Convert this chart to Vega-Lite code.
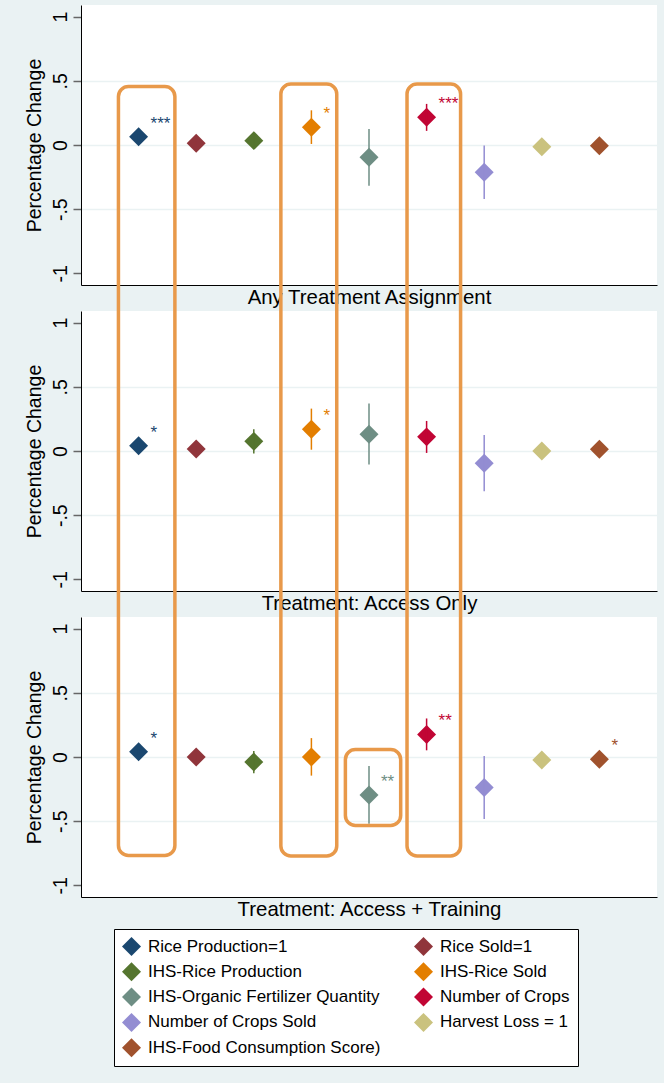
{
  "$schema": "https://vega.github.io/schema/vega-lite/v6.json",
  "background": "#EAF2F3",
  "padding": {"left": 24, "top": 5, "right": 7, "bottom": 18},
  "bounds": "flush",
  "spacing": 26,
  "config": {
    "font": "Liberation Sans",
    "view": {"fill": "white", "stroke": null},
    "axis": {
      "labelFont": "Liberation Sans", "titleFont": "Liberation Sans",
      "labelColor": "black", "titleColor": "black", "titleFontWeight": "normal",
      "domainColor": "black", "domainWidth": 1, "tickColor": "#666", "tickWidth": 1.5,
      "gridColor": "#EAF2F3", "gridWidth": 1.5
    },
    "axisX": {"labels": false, "ticks": false, "grid": false, "titleFontSize": 20.4, "titlePadding": 2},
    "axisY": {
      "labelAngle": 270, "labelAlign": "center", "labelBaseline": "bottom",
      "labelFontSize": 19.5, "labelPadding": 3, "tickSize": 8, "titleFontSize": 19.5, "titlePadding": 6
    }
  },
  "datasets": {
    "est": [
      {"panel": "Any Treatment Assignment", "series": "Rice Production=1", "k": 1, "est": 0.065, "lo": 0.045, "hi": 0.085, "sig": "***"},
      {"panel": "Any Treatment Assignment", "series": "Rice Sold=1", "k": 2, "est": 0.013, "lo": 0.0, "hi": 0.026, "sig": ""},
      {"panel": "Any Treatment Assignment", "series": "IHS-Rice Production", "k": 3, "est": 0.034, "lo": -0.02, "hi": 0.09, "sig": ""},
      {"panel": "Any Treatment Assignment", "series": "IHS-Rice Sold", "k": 4, "est": 0.138, "lo": 0.008, "hi": 0.27, "sig": "*"},
      {"panel": "Any Treatment Assignment", "series": "IHS-Organic Fertilizer Quantity", "k": 5, "est": -0.096, "lo": -0.318, "hi": 0.125, "sig": ""},
      {"panel": "Any Treatment Assignment", "series": "Number of Crops", "k": 6, "est": 0.216, "lo": 0.11, "hi": 0.32, "sig": "***"},
      {"panel": "Any Treatment Assignment", "series": "Number of Crops Sold", "k": 7, "est": -0.213, "lo": -0.42, "hi": -0.003, "sig": ""},
      {"panel": "Any Treatment Assignment", "series": "Harvest Loss = 1", "k": 8, "est": -0.013, "lo": -0.03, "hi": 0.005, "sig": ""},
      {"panel": "Any Treatment Assignment", "series": "IHS-Food Consumption Score)", "k": 9, "est": -0.005, "lo": -0.03, "hi": 0.02, "sig": ""},
      {"panel": "Treatment: Access Only", "series": "Rice Production=1", "k": 1, "est": 0.041, "lo": 0.02, "hi": 0.06, "sig": "*"},
      {"panel": "Treatment: Access Only", "series": "Rice Sold=1", "k": 2, "est": 0.015, "lo": -0.005, "hi": 0.035, "sig": ""},
      {"panel": "Treatment: Access Only", "series": "IHS-Rice Production", "k": 3, "est": 0.075, "lo": -0.02, "hi": 0.17, "sig": ""},
      {"panel": "Treatment: Access Only", "series": "IHS-Rice Sold", "k": 4, "est": 0.17, "lo": 0.01, "hi": 0.33, "sig": "*"},
      {"panel": "Treatment: Access Only", "series": "IHS-Organic Fertilizer Quantity", "k": 5, "est": 0.131, "lo": -0.106, "hi": 0.37, "sig": ""},
      {"panel": "Treatment: Access Only", "series": "Number of Crops", "k": 6, "est": 0.11, "lo": -0.015, "hi": 0.234, "sig": ""},
      {"panel": "Treatment: Access Only", "series": "Number of Crops Sold", "k": 7, "est": -0.095, "lo": -0.314, "hi": 0.124, "sig": ""},
      {"panel": "Treatment: Access Only", "series": "Harvest Loss = 1", "k": 8, "est": 0.0, "lo": -0.02, "hi": 0.02, "sig": ""},
      {"panel": "Treatment: Access Only", "series": "IHS-Food Consumption Score)", "k": 9, "est": 0.013, "lo": -0.01, "hi": 0.035, "sig": ""},
      {"panel": "Treatment: Access + Training", "series": "Rice Production=1", "k": 1, "est": 0.041, "lo": 0.02, "hi": 0.06, "sig": "*"},
      {"panel": "Treatment: Access + Training", "series": "Rice Sold=1", "k": 2, "est": 0.0, "lo": -0.02, "hi": 0.02, "sig": ""},
      {"panel": "Treatment: Access + Training", "series": "IHS-Rice Production", "k": 3, "est": -0.039, "lo": -0.126, "hi": 0.047, "sig": ""},
      {"panel": "Treatment: Access + Training", "series": "IHS-Rice Sold", "k": 4, "est": 0.0, "lo": -0.145, "hi": 0.147, "sig": ""},
      {"panel": "Treatment: Access + Training", "series": "IHS-Organic Fertilizer Quantity", "k": 5, "est": -0.295, "lo": -0.52, "hi": -0.07, "sig": "**"},
      {"panel": "Treatment: Access + Training", "series": "Number of Crops", "k": 6, "est": 0.176, "lo": 0.052, "hi": 0.30, "sig": "**"},
      {"panel": "Treatment: Access + Training", "series": "Number of Crops Sold", "k": 7, "est": -0.238, "lo": -0.483, "hi": 0.008, "sig": ""},
      {"panel": "Treatment: Access + Training", "series": "Harvest Loss = 1", "k": 8, "est": -0.023, "lo": -0.045, "hi": 0.0, "sig": ""},
      {"panel": "Treatment: Access + Training", "series": "IHS-Food Consumption Score)", "k": 9, "est": -0.018, "lo": -0.04, "hi": 0.005, "sig": "*"}
    ],
    "boxes": [
      {"x1": 0.65, "x2": 1.63, "y1": 5.22, "y2": -0.767},
      {"x1": 3.47, "x2": 4.44, "y1": 5.24, "y2": -0.77},
      {"x1": 5.66, "x2": 6.59, "y1": 5.24, "y2": -0.77},
      {"x1": 4.59, "x2": 5.55, "y1": 0.058, "y2": -0.533}
    ]
  },
  "vconcat": [
    {
      "width": 576, "height": 280,
      "layer": [
        {
          "data": {"name": "est"},
          "transform": [{"filter": "datum.panel == 'Any Treatment Assignment'"}],
          "mark": {"type": "point", "shape": "diamond", "filled": true, "size": 360, "opacity": 1},
          "encoding": {
            "x": {"field": "k", "type": "quantitative", "scale": {"domain": [0, 10], "nice": false}, "axis": {"title": "Any Treatment Assignment"}},
            "y": {"field": "est", "type": "quantitative", "scale": {"domain": [-1.09, 1.09], "nice": false, "zero": false},
              "axis": {"title": "Percentage Change", "values": [-1, -0.5, 0, 0.5, 1],
                "labelExpr": "datum.value == 0.5 ? '.5' : datum.value == -0.5 ? '-.5' : datum.value == 1 ? '1' : datum.value == -1 ? '-1' : '0'",
                "gridOpacity": {"condition": {"test": "abs(datum.value) > 0.9", "value": 0}, "value": 1}}},
            "color": {"field": "series", "type": "nominal", "sort": null,
              "scale": {"domain": ["Rice Production=1", "Rice Sold=1", "IHS-Rice Production", "IHS-Rice Sold", "IHS-Organic Fertilizer Quantity", "Number of Crops", "Number of Crops Sold", "Harvest Loss = 1", "IHS-Food Consumption Score)"],
                "range": ["#1A476F", "#90353B", "#55752F", "#E37E00", "#6E8E84", "#C10534", "#938DD2", "#CAC27E", "#A0522D"]},
              "legend": {
                "orient": "none", "legendX": 33, "legendY": 924, "columns": 2, "direction": "horizontal", "title": null,
                "symbolType": "diamond", "symbolSize": 360, "symbolStrokeWidth": 0, "symbolOpacity": 1,
                "labelFontSize": 17, "labelFont": "Liberation Sans", "labelColor": "black", "labelLimit": 400,
                "fillColor": "white", "strokeColor": "black", "padding": 8, "rowPadding": 6.3, "columnPadding": 33, "labelOffset": 7
              }}
          }
        },
        {
          "data": {"name": "est"},
          "transform": [{"filter": "datum.panel == 'Any Treatment Assignment'"}],
          "mark": {"type": "rule", "strokeWidth": 1.5},
          "encoding": {
            "x": {"field": "k", "type": "quantitative"},
            "y": {"field": "lo", "type": "quantitative"},
            "y2": {"field": "hi"},
            "color": {"field": "series", "type": "nominal"}
          }
        },
        {
          "data": {"name": "est"},
          "transform": [{"filter": "datum.panel == 'Any Treatment Assignment'"}],
          "mark": {"type": "text", "align": "left", "baseline": "alphabetic", "dx": 12, "dy": -8, "fontSize": 17},
          "encoding": {
            "x": {"field": "k", "type": "quantitative"},
            "y": {"field": "est", "type": "quantitative"},
            "text": {"field": "sig"},
            "color": {"field": "series", "type": "nominal"}
          }
        }
      ]
    },
    {
      "width": 576, "height": 280,
      "layer": [
        {
          "data": {"name": "est"},
          "transform": [{"filter": "datum.panel == 'Treatment: Access Only'"}],
          "mark": {"type": "point", "shape": "diamond", "filled": true, "size": 360, "opacity": 1},
          "encoding": {
            "x": {"field": "k", "type": "quantitative", "scale": {"domain": [0, 10], "nice": false}, "axis": {"title": "Treatment: Access Only"}},
            "y": {"field": "est", "type": "quantitative", "scale": {"domain": [-1.09, 1.09], "nice": false, "zero": false},
              "axis": {"title": "Percentage Change", "values": [-1, -0.5, 0, 0.5, 1],
                "labelExpr": "datum.value == 0.5 ? '.5' : datum.value == -0.5 ? '-.5' : datum.value == 1 ? '1' : datum.value == -1 ? '-1' : '0'",
                "gridOpacity": {"condition": {"test": "abs(datum.value) > 0.9", "value": 0}, "value": 1}}},
            "color": {"field": "series", "type": "nominal"}
          }
        },
        {
          "data": {"name": "est"},
          "transform": [{"filter": "datum.panel == 'Treatment: Access Only'"}],
          "mark": {"type": "rule", "strokeWidth": 1.5},
          "encoding": {
            "x": {"field": "k", "type": "quantitative"},
            "y": {"field": "lo", "type": "quantitative"},
            "y2": {"field": "hi"},
            "color": {"field": "series", "type": "nominal"}
          }
        },
        {
          "data": {"name": "est"},
          "transform": [{"filter": "datum.panel == 'Treatment: Access Only'"}],
          "mark": {"type": "text", "align": "left", "baseline": "alphabetic", "dx": 12, "dy": -8, "fontSize": 17},
          "encoding": {
            "x": {"field": "k", "type": "quantitative"},
            "y": {"field": "est", "type": "quantitative"},
            "text": {"field": "sig"},
            "color": {"field": "series", "type": "nominal"}
          }
        }
      ]
    },
    {
      "width": 576, "height": 280,
      "layer": [
        {
          "data": {"name": "est"},
          "transform": [{"filter": "datum.panel == 'Treatment: Access + Training'"}],
          "mark": {"type": "point", "shape": "diamond", "filled": true, "size": 360, "opacity": 1},
          "encoding": {
            "x": {"field": "k", "type": "quantitative", "scale": {"domain": [0, 10], "nice": false}, "axis": {"title": "Treatment: Access + Training"}},
            "y": {"field": "est", "type": "quantitative", "scale": {"domain": [-1.09, 1.09], "nice": false, "zero": false},
              "axis": {"title": "Percentage Change", "values": [-1, -0.5, 0, 0.5, 1],
                "labelExpr": "datum.value == 0.5 ? '.5' : datum.value == -0.5 ? '-.5' : datum.value == 1 ? '1' : datum.value == -1 ? '-1' : '0'",
                "gridOpacity": {"condition": {"test": "abs(datum.value) > 0.9", "value": 0}, "value": 1}}},
            "color": {"field": "series", "type": "nominal"}
          }
        },
        {
          "data": {"name": "est"},
          "transform": [{"filter": "datum.panel == 'Treatment: Access + Training'"}],
          "mark": {"type": "rule", "strokeWidth": 1.5},
          "encoding": {
            "x": {"field": "k", "type": "quantitative"},
            "y": {"field": "lo", "type": "quantitative"},
            "y2": {"field": "hi"},
            "color": {"field": "series", "type": "nominal"}
          }
        },
        {
          "data": {"name": "est"},
          "transform": [{"filter": "datum.panel == 'Treatment: Access + Training'"}],
          "mark": {"type": "text", "align": "left", "baseline": "alphabetic", "dx": 12, "dy": -8, "fontSize": 17},
          "encoding": {
            "x": {"field": "k", "type": "quantitative"},
            "y": {"field": "est", "type": "quantitative"},
            "text": {"field": "sig"},
            "color": {"field": "series", "type": "nominal"}
          }
        },
        {
          "data": {"name": "boxes"},
          "mark": {"type": "rect", "filled": false, "stroke": "#E8994A", "strokeWidth": 3.5, "cornerRadius": 10, "clip": false},
          "encoding": {
            "x": {"field": "x1", "type": "quantitative"},
            "x2": {"field": "x2"},
            "y": {"field": "y1", "type": "quantitative"},
            "y2": {"field": "y2"}
          }
        }
      ]
    }
  ]
}
